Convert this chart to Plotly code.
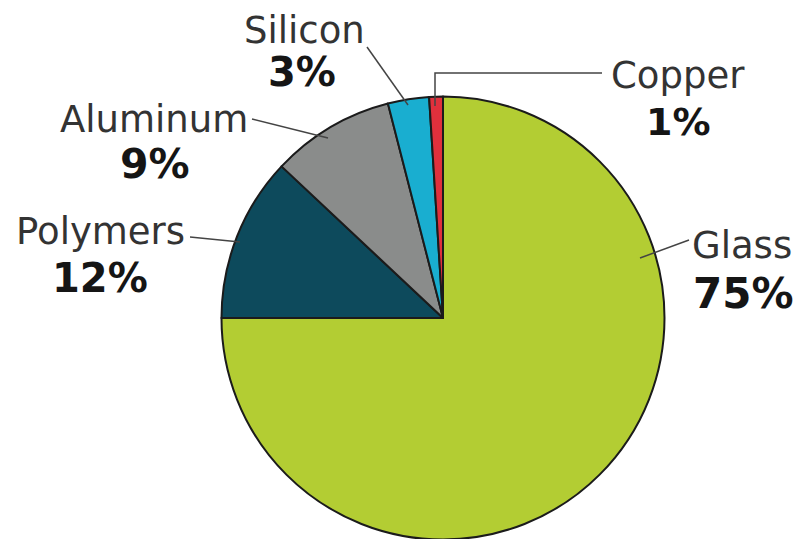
import plotly.graph_objects as go

materials = ["Glass", "Polymers", "Aluminum", "Silicon", "Copper"]
shares = [75, 12, 9, 3, 1]
colors = ["#b3cd33", "#0d4a5c", "#8a8c8b", "#19aed0", "#e0303c"]

W, H = 802, 539
OFF = 8  # page body margin offset

def px(x, y):
    return (x - OFF) / W, 1 - (y - OFF) / H

# label layout (pixel positions of name / percent centers in the page)
label_pos = {
    "Glass":    ((742, 246), (743, 293)),
    "Polymers": ((100, 231), (100, 278)),
    "Aluminum": ((154, 119), (155, 164)),
    "Silicon":  ((304, 30), (302, 72)),
    "Copper":   ((678, 75), (678, 122)),
}
pct_size = {"Glass": 42, "Polymers": 40, "Aluminum": 41, "Silicon": 40, "Copper": 38}
leaders = {
    "Glass":    [(640, 258), (689, 240)],
    "Polymers": [(190, 237), (240, 242)],
    "Aluminum": [(252, 119), (328, 138)],
    "Silicon":  [(367, 47), (408, 105)],
    "Copper":   [(435, 106), (435, 73), (602, 73)],
}

x0, y0 = px(221.5, 539.5)
x1, y1 = px(664.5, 96.5)

fig = go.Figure(go.Pie(
    labels=materials, values=shares, sort=False, direction="clockwise",
    rotation=0, textinfo="none", hoverinfo="label+percent",
    marker=dict(colors=colors, line=dict(color="#1b1b1b", width=2)),
    domain=dict(x=[x0, x1], y=[y0, y1]),
    showlegend=False,
))

annotations = []
for name, val in zip(materials, shares):
    (nx, ny), (vx, vy) = label_pos[name]
    x, y = px(nx, ny)
    annotations.append(dict(x=x, y=y, xref="paper", yref="paper", text=name,
                            showarrow=False, xanchor="center", yanchor="middle",
                            font=dict(family="DejaVu Sans", size=37, color="#333333")))
    x, y = px(vx, vy)
    annotations.append(dict(x=x, y=y, xref="paper", yref="paper", text=f"<b>{val}%</b>",
                            showarrow=False, xanchor="center", yanchor="middle",
                            font=dict(family="DejaVu Sans", size=pct_size[name], color="#151515")))

shapes = []
for name in materials:
    pts = leaders[name]
    path = "M " + " L ".join(f"{px(a, b)[0]},{px(a, b)[1]}" for a, b in pts)
    shapes.append(dict(type="path", path=path, xref="paper", yref="paper",
                       line=dict(color="#444444", width=1.5)))

fig.update_layout(width=W, height=H, margin=dict(l=0, r=0, t=0, b=0),
                  paper_bgcolor="white", plot_bgcolor="white",
                  annotations=annotations, shapes=shapes)
fig.write_html("out.html")
